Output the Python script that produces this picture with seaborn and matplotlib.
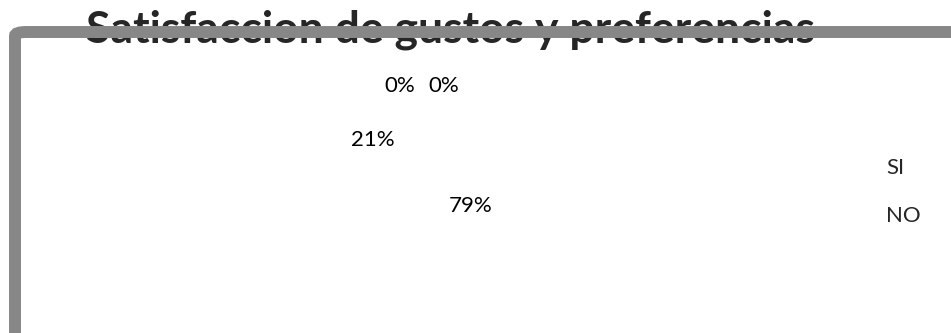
import numpy as np
import matplotlib
matplotlib.use("Agg")
import matplotlib.pyplot as plt
import seaborn as sns
from matplotlib.patches import FancyBboxPatch

# data
categories = ["SI", "NO", "", ""]
values = [79, 21, 0, 0]
legend_labels = ["SI", "NO"]
title = "Satisfaccion de gustos y preferencias"

sns.set_theme(style="white")
plt.rcParams["font.family"] = ["Lato", "DejaVu Sans"]

W, H = 951, 333
fig = plt.figure(figsize=(W / 100, H / 100), dpi=100)
fig.patch.set_facecolor("white")

# pie axes: center ~ (422, 173) px, radius 100 px
cx, cy, R = 422, 173, 100
ax = fig.add_axes([(cx - R) / W, (H - cy - R) / H, 2 * R / W, 2 * R / H])
wedges, texts, autotexts = ax.pie(
    values,
    colors=["white"] * len(values),
    startangle=108,
    counterclock=False,
    autopct="%1.0f%%",
    pctdistance=0.59,
    textprops={"fontsize": 16, "color": "black"},
)
ax.set_xlim(-1, 1)
ax.set_ylim(-1, 1)
ax.set_aspect("equal")

# zero-valued labels pushed outward and spread apart, as in the source
zero_idx = [i for i, v in enumerate(values) if v == 0]
for k, i in enumerate(zero_idx):
    ang = np.deg2rad(90 + (14 if k == 0 else -14))
    autotexts[i].set_position((0.9 * np.cos(ang), 0.9 * np.sin(ang)))

# legend without visible keys
leg = fig.legend(
    wedges[:2], legend_labels,
    loc="center left",
    bbox_to_anchor=(886 / W, (H - 192) / H),
    frameon=False, fontsize=16,
    handlelength=0, handletextpad=0, borderpad=0, borderaxespad=0,
    labelspacing=1.25,
)

# title (drawn beneath the border line)
fig.text(451 / W, 1 - 43 / H, title, ha="center", va="baseline",
         fontsize=32, fontweight="bold", zorder=1)

# gray chart border on top and left, rounded corner
border = FancyBboxPatch(
    (15 / W, -0.1), 1.2, (H - 32) / H + 0.1,
    boxstyle="round,pad=0,rounding_size=0.012",
    transform=fig.transFigure, facecolor="none",
    edgecolor="#878787", linewidth=8.6, zorder=5,
)
fig.add_artist(border)

fig.savefig("out.png", dpi=100, facecolor="white")
